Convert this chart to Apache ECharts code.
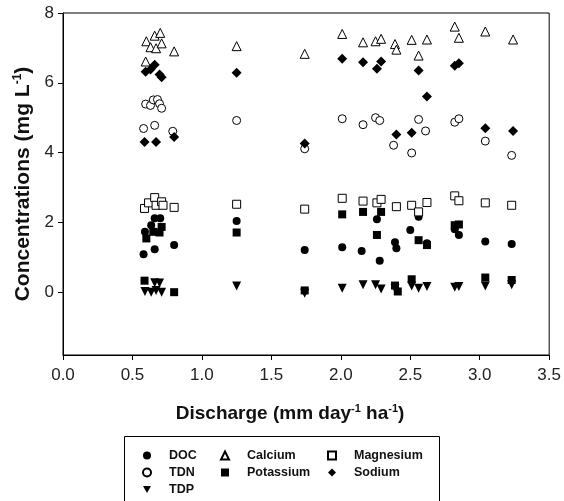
<!DOCTYPE html>
<html>
<head>
<meta charset="utf-8">
<script src="https://cdn.jsdelivr.net/npm/echarts@6/dist/echarts.min.js"></script>
<style>
  html, body { margin: 0; padding: 0; background: #fff; }
  #chart { width: 564px; height: 501px; }
</style>
</head>
<body>
<div id="chart"></div>
<script>
// [discharge, concentration] pairs
const doc = [[0.58, 1.09], [0.59, 1.73], [0.635, 1.92], [0.66, 1.23], [0.66, 2.12], [0.7, 2.12], [0.8, 1.35], [1.25, 2.04], [1.74, 1.21], [2.01, 1.29], [2.15, 1.18], [2.26, 2.09], [2.28, 0.9], [2.39, 1.43], [2.4, 1.26], [2.5, 1.78], [2.56, 2.16], [2.62, 1.4], [2.82, 1.8], [2.85, 1.64], [3.04, 1.45], [3.23, 1.38]]
const tdn = [[0.58, 4.69], [0.595, 5.39], [0.63, 5.35], [0.65, 5.51], [0.66, 4.78], [0.68, 5.52], [0.695, 5.4], [0.71, 5.27], [0.79, 4.61], [1.25, 4.92], [1.74, 4.11], [2.01, 4.97], [2.16, 4.8], [2.25, 5.0], [2.28, 4.92], [2.38, 4.21], [2.51, 3.99], [2.56, 4.95], [2.61, 4.62], [2.82, 4.87], [2.85, 4.97], [3.04, 4.33], [3.23, 3.92]]
const tdp = [[0.59, 0.02], [0.635, 0.0], [0.66, 0.27], [0.67, 0.05], [0.695, 0.26], [0.71, 0.0], [1.25, 0.18], [1.74, -0.03], [2.01, 0.11], [2.16, 0.21], [2.25, 0.21], [2.29, 0.09], [2.39, 0.1], [2.51, 0.18], [2.56, 0.11], [2.62, 0.16], [2.82, 0.14], [2.85, 0.16], [3.04, 0.18], [3.23, 0.21]]
const calcium = [[0.595, 6.61], [0.6, 7.19], [0.63, 7.02], [0.66, 7.35], [0.67, 6.99], [0.7, 7.43], [0.71, 7.13], [0.8, 6.9], [1.25, 7.05], [1.74, 6.83], [2.01, 7.4], [2.16, 7.16], [2.25, 7.19], [2.29, 7.26], [2.39, 7.11], [2.4, 6.95], [2.51, 7.23], [2.56, 6.78], [2.62, 7.24], [2.82, 7.61], [2.85, 7.29], [3.04, 7.47], [3.24, 7.24]]
const magnesium = [[0.587, 2.4], [0.616, 2.56], [0.66, 2.71], [0.67, 2.49], [0.71, 2.59], [0.72, 2.49], [0.8, 2.43], [1.25, 2.52], [1.74, 2.38], [2.01, 2.69], [2.16, 2.61], [2.26, 2.56], [2.29, 2.66], [2.4, 2.45], [2.51, 2.49], [2.56, 2.3], [2.62, 2.57], [2.82, 2.76], [2.85, 2.62], [3.04, 2.56], [3.23, 2.49]]
const potassium = [[0.587, 0.33], [0.6, 1.54], [0.65, 1.73], [0.695, 1.71], [0.71, 1.87], [0.8, 0.0], [1.25, 1.71], [1.74, 0.05], [2.01, 2.23], [2.16, 2.3], [2.26, 1.64], [2.29, 2.3], [2.39, 0.19], [2.41, 0.02], [2.51, 0.37], [2.56, 1.49], [2.62, 1.35], [2.82, 1.92], [2.85, 1.94], [3.04, 0.42], [3.23, 0.35]]
const sodium = [[0.587, 4.3], [0.595, 6.32], [0.63, 6.38], [0.66, 6.52], [0.67, 4.3], [0.695, 6.24], [0.71, 6.16], [0.8, 4.45], [1.25, 6.29], [1.74, 4.26], [2.01, 6.69], [2.16, 6.59], [2.26, 6.4], [2.29, 6.61], [2.4, 4.52], [2.51, 4.57], [2.56, 6.35], [2.62, 5.61], [2.82, 6.49], [2.85, 6.56], [3.04, 4.7], [3.24, 4.62]]

const yTicks = [0, 2, 4, 6, 8]

const font = 'Liberation Sans, Arial, sans-serif'
const downTriangle = 'path://M0,0 L10,0 L5,9 Z'

// name, data, symbol, size, filled, rotate
const seriesDefs = [
  ['DOC', doc, 'circle', 8, true, 0],
  ['TDN', tdn, 'circle', 8, false, 0],
  ['TDP', tdp, 'triangle', 9, true, 180],
  ['Calcium', calcium, 'triangle', 9, false, 0],
  ['Magnesium', magnesium, 'rect', 8, false, 0],
  ['Potassium', potassium, 'rect', 8, true, 0],
  ['Sodium', sodium, 'diamond', 10, true, 0]
]

const chart = echarts.init(document.getElementById('chart'), null, { renderer: 'canvas' })

const legendBase = {
  orient: 'vertical',
  top: 449,
  padding: 0,
  itemWidth: 8,
  itemHeight: 8,
  itemGap: 4,
  textStyle: { fontFamily: font, fontSize: 12.5, fontWeight: 'bold', color: '#111', padding: [0, 0, 0, 13] }
}

const option = {
  animation: false,
  backgroundColor: '#fff',
  grid: { left: 63, right: 14, top: 13, bottom: 146, show: true, borderColor: '#000', borderWidth: 1 },
  legend: [
    Object.assign({}, legendBase, { left: 142, data: ['DOC', 'TDN', { name: 'TDP', icon: downTriangle }] }),
    Object.assign({}, legendBase, { left: 220, data: ['Calcium', 'Potassium'] }),
    Object.assign({}, legendBase, { left: 327, data: ['Magnesium', 'Sodium'] })
  ],
  graphic: [
    {
      type: 'rect',
      shape: { x: 124.5, y: 436.5, width: 315, height: 80 },
      style: { fill: 'none', stroke: '#000', lineWidth: 1 },
      z: 0
    }
  ],
  xAxis: {
    type: 'value',
    min: 0,
    max: 3.5,
    interval: 0.5,
    name: '{b|Discharge (mm day}{s|-1}{b| ha}{s|-1}{b|)}',
    nameLocation: 'middle',
    nameGap: 48,
    nameTextStyle: {
      padding: [0, 32, 0, 0],
      rich: {
        b: { fontFamily: font, fontSize: 19, fontWeight: 'bold', color: '#111' },
        s: { fontFamily: font, fontSize: 11, fontWeight: 'bold', color: '#111', padding: [0, 0, 10, 0] }
      }
    },
    axisLine: { show: true, onZero: false, lineStyle: { color: '#000', width: 1 } },
    axisTick: { show: true, inside: false, length: 5, lineStyle: { color: '#000' } },
    splitLine: { show: false },
    axisLabel: {
      fontFamily: font,
      fontSize: 17,
      color: '#222',
      margin: 12,
      formatter: (v) => v.toFixed(1)
    }
  },
  yAxis: {
    type: 'value',
    min: -1.8,
    max: 8,
    name: '{b|Concentrations (mg L}{s|-1}{b|)}',
    nameLocation: 'middle',
    nameGap: 28,
    nameRotate: 90,
    nameTextStyle: {
      rich: {
        b: { fontFamily: font, fontSize: 21, fontWeight: 'bold', color: '#111' },
        s: { fontFamily: font, fontSize: 12, fontWeight: 'bold', color: '#111', padding: [0, 0, 11, 0] }
      }
    },
    axisLine: { show: true, onZero: false, lineStyle: { color: '#000', width: 1 } },
    axisTick: { show: true, inside: false, length: 5, customValues: yTicks, lineStyle: { color: '#000' } },
    splitLine: { show: false },
    axisLabel: {
      fontFamily: font,
      fontSize: 17,
      color: '#222',
      margin: 9,
      customValues: yTicks
    }
  },
  series: seriesDefs.map(([name, data, symbol, size, filled, rotate]) => ({
    name: name,
    type: 'scatter',
    data: data,
    symbol: symbol,
    symbolSize: size,
    symbolRotate: rotate,
    itemStyle: {
      color: filled ? '#000' : '#fff',
      borderColor: '#000',
      borderWidth: filled ? 0 : 1,
      opacity: 1
    }
  }))
}

chart.setOption(option)
</script>
</body>
</html>
